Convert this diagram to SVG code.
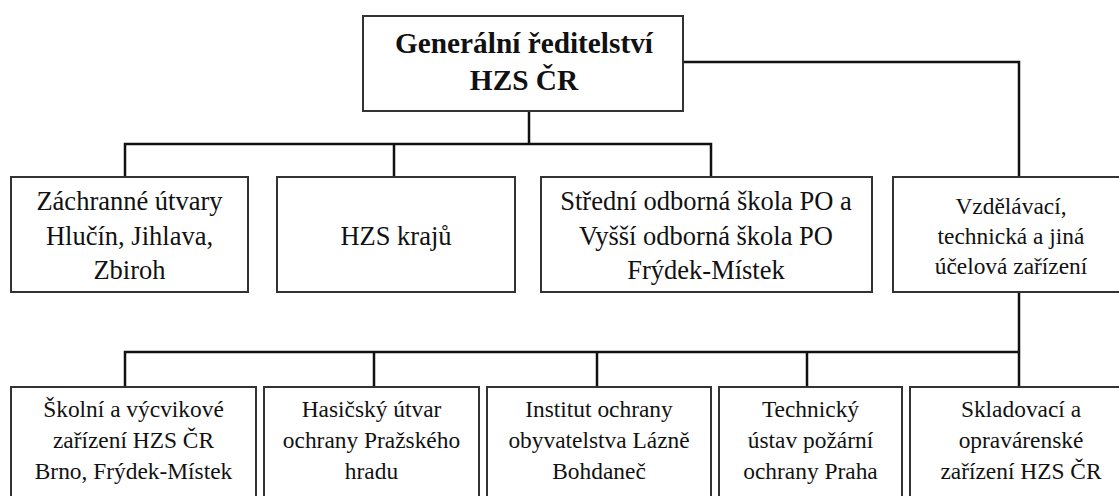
<svg xmlns="http://www.w3.org/2000/svg" width="1119" height="496" viewBox="0 0 1119 496">
<style>
.box{fill:#fff;stroke:#333;stroke-width:2}
.con{fill:none;stroke:#111;stroke-width:2.5}
text{font-family:"Liberation Serif","Times New Roman",serif;fill:#111;text-anchor:middle}
.t{font-size:29.3px;font-weight:bold}
.l{font-size:26.5px}
.s{font-size:23.4px}
</style>
<rect width="1119" height="496" fill="#fff"/>
<g id="connectors">
<path class="con" d="M529,111V144M125,177V144H711V177M394,144V177M683,62H1019V177"/>
<path class="con" d="M1019,292V387M125,387V352H1019M374,352V387M597,352V387M807,352V387"/>
</g>
<g id="n-gr">
<rect class="box" x="363" y="16" width="320" height="95"/>
<text class="t" x="524" y="53">Generální ředitelství</text>
<text class="t" x="524" y="90">HZS ČR</text>
</g>
<g id="n-zu">
<rect class="box" x="11" y="177" width="237" height="115"/>
<text class="l" x="129.5" y="210"><tspan x="129.5">Záchranné útvary</tspan><tspan x="129.5" dy="34.5">Hlučín, Jihlava,</tspan><tspan x="129.5" dy="34.5">Zbiroh</tspan></text>
</g>
<g id="n-hzsk">
<rect class="box" x="277" y="177" width="238" height="115"/>
<text class="l" x="396" y="244.5">HZS krajů</text>
</g>
<g id="n-sos">
<rect class="box" x="541" y="177" width="331" height="115"/>
<text class="l" x="706" y="210"><tspan x="706">Střední odborná škola PO a</tspan><tspan x="706" dy="34.5">Vyšší odborná škola PO</tspan><tspan x="706" dy="34.5">Frýdek-Místek</tspan></text>
</g>
<g id="n-vtj">
<rect class="box" x="893" y="177" width="240" height="115"/>
<text class="s" x="1011" y="214"><tspan x="1011">Vzdělávací,</tspan><tspan x="1011" dy="30">technická a jiná</tspan><tspan x="1011" dy="30">účelová zařízení</tspan></text>
</g>
<g id="n-skol">
<rect class="box" x="11" y="387" width="245" height="120"/>
<text class="s" x="133.5" y="417"><tspan x="133.5">Školní a výcvikové</tspan><tspan x="133.5" dy="31">zařízení HZS ČR</tspan><tspan x="133.5" dy="31">Brno, Frýdek-Místek</tspan></text>
</g>
<g id="n-hasic">
<rect class="box" x="264" y="387" width="215" height="120"/>
<text class="s" x="371.5" y="417"><tspan x="371.5">Hasičský útvar</tspan><tspan x="371.5" dy="31">ochrany Pražského</tspan><tspan x="371.5" dy="31">hradu</tspan></text>
</g>
<g id="n-inst">
<rect class="box" x="487" y="387" width="224" height="120"/>
<text class="s" x="599" y="417"><tspan x="599">Institut ochrany</tspan><tspan x="599" dy="31">obyvatelstva Lázně</tspan><tspan x="599" dy="31">Bohdaneč</tspan></text>
</g>
<g id="n-tech">
<rect class="box" x="719" y="387" width="183" height="120"/>
<text class="s" x="810.5" y="417"><tspan x="810.5">Technický</tspan><tspan x="810.5" dy="31">ústav požární</tspan><tspan x="810.5" dy="31">ochrany Praha</tspan></text>
</g>
<g id="n-sklad">
<rect class="box" x="910" y="387" width="222" height="120"/>
<text class="s" x="1021" y="417"><tspan x="1021">Skladovací a</tspan><tspan x="1021" dy="31">opravárenské</tspan><tspan x="1021" dy="31">zařízení HZS ČR</tspan></text>
</g>
</svg>
